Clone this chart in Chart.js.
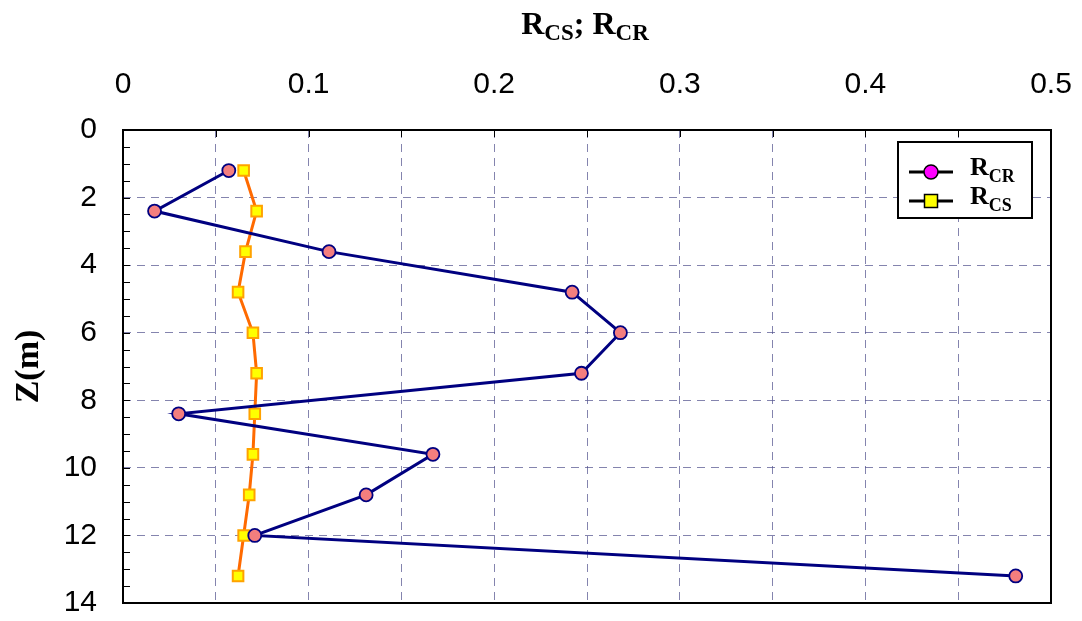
<!DOCTYPE html>
<html>
<head>
<meta charset="utf-8">
<script src="https://cdn.jsdelivr.net/npm/chart.js@4.4.0/dist/chart.umd.min.js"></script>
<style>
  html, body { margin: 0; padding: 0; background: #fff; }
  #wrap { width: 1082px; height: 621px; position: relative; }
</style>
</head>
<body>
<div id="wrap"><canvas id="chart"></canvas></div>
<script>
// depth of each reading (m)
const depths = [1.2, 2.4, 3.6, 4.8, 6.0, 7.2, 8.4, 9.6, 10.8, 12.0, 13.2];
const rcr = [0.057, 0.017, 0.111, 0.242, 0.268, 0.247, 0.030, 0.167, 0.131, 0.071, 0.481];
const rcs = [0.065, 0.072, 0.066, 0.062, 0.070, 0.072, 0.071, 0.070, 0.068, 0.065, 0.062];

const xTickLabels = ['0', '0.1', '0.2', '0.3', '0.4', '0.5'];
const yTickLabels = ['0', '2', '4', '6', '8', '10', '12', '14'];

const serif = '"Liberation Serif", "Times New Roman", serif';
const sans = '"Liberation Sans", Arial, sans-serif';
const gridCol = 'rgba(80, 80, 140, 0.7)';

const toPoints = vals => vals.map((v, i) => ({ x: v, y: depths[i] }));

// text with subscripts, e.g. [['R'], ['CS', 1]]
function drawSubText(ctx, parts, cx, baseY, size, subSize) {
  const fontOf = s => 'bold ' + s + 'px ' + serif;
  let total = 0;
  parts.forEach(p => {
    ctx.font = fontOf(p[1] ? subSize : size);
    total += ctx.measureText(p[0]).width;
  });
  let x = cx - total / 2;
  ctx.textAlign = 'left';
  ctx.textBaseline = 'alphabetic';
  parts.forEach(p => {
    ctx.font = fontOf(p[1] ? subSize : size);
    ctx.fillText(p[0], x, baseY + (p[1] ? size * 0.2 : 0));
    x += ctx.measureText(p[0]).width;
  });
  return total;
}

const frame = {
  id: 'frame',
  beforeDatasetsDraw(chart) {
    const { ctx, chartArea: a, scales } = chart;
    ctx.save();
    // minor tick marks, pointing inward
    ctx.strokeStyle = '#000';
    ctx.lineWidth = 1;
    ctx.beginPath();
    for (let v = 0.5; v < 14; v += 0.5) {
      const y = Math.round(scales.y.getPixelForValue(v)) + 0.5;
      ctx.moveTo(a.left, y);
      ctx.lineTo(a.left + 7, y);
    }
    for (let i = 1; i < 10; i++) {
      const x = Math.round(scales.x.getPixelForValue(i * 0.05)) + 0.5;
      ctx.moveTo(x, a.top);
      ctx.lineTo(x, a.top + 7);
    }
    ctx.stroke();
    ctx.lineWidth = 2;
    ctx.strokeRect(a.left, a.top, a.right - a.left, a.bottom - a.top);
    ctx.restore();
  },
  afterDraw(chart) {
    const { ctx, chartArea: a } = chart;
    ctx.save();
    ctx.fillStyle = '#000';
    drawSubText(ctx, [['R'], ['CS', 1], ['; R'], ['CR', 1]], (a.left + a.right) / 2 - 2, 34, 32, 23);

    // legend
    const bx = 898, by = 142, bw = 134, bh = 76;
    ctx.fillStyle = '#fff';
    ctx.fillRect(bx, by, bw, bh);
    ctx.strokeStyle = '#000';
    ctx.lineWidth = 2;
    ctx.strokeRect(bx, by, bw, bh);
    const rows = [
      { y: 172, label: 'CR', shape: 'circle', fill: '#ff00ff' },
      { y: 201, label: 'CS', shape: 'square', fill: '#ffff00' }
    ];
    rows.forEach(r => {
      ctx.strokeStyle = '#000';
      ctx.lineWidth = 3;
      ctx.beginPath();
      ctx.moveTo(909, r.y);
      ctx.lineTo(953, r.y);
      ctx.stroke();
      ctx.fillStyle = r.fill;
      ctx.lineWidth = 1.5;
      ctx.beginPath();
      if (r.shape === 'circle') ctx.arc(931, r.y, 7, 0, Math.PI * 2);
      else ctx.rect(924.5, r.y - 6.5, 13, 13);
      ctx.fill();
      ctx.stroke();
      ctx.fillStyle = '#000';
      ctx.font = 'bold 26px ' + serif;
      ctx.textAlign = 'left';
      ctx.textBaseline = 'alphabetic';
      ctx.fillText('R', 970, r.y + 3);
      const w = ctx.measureText('R').width;
      ctx.font = 'bold 18px ' + serif;
      ctx.fillText(r.label, 970 + w, r.y + 10);
    });
    ctx.restore();
  }
};

new Chart(document.getElementById('chart'), {
  type: 'scatter',
  data: {
    datasets: [
      {
        label: 'RCR',
        data: toPoints(rcr),
        showLine: true,
        borderColor: '#000080',
        borderWidth: 3,
        pointStyle: 'circle',
        pointRadius: 6.5,
        pointBackgroundColor: '#f47e7e',
        pointBorderColor: '#000080',
        pointBorderWidth: 1.8,
        clip: false
      },
      {
        label: 'RCS',
        data: toPoints(rcs),
        showLine: true,
        borderColor: '#ff6a00',
        borderWidth: 3,
        pointStyle: 'rect',
        pointRadius: 7.5,
        pointBackgroundColor: '#ffff00',
        pointBorderColor: '#ffa200',
        pointBorderWidth: 2,
        clip: false
      }
    ]
  },
  options: {
    responsive: true,
    maintainAspectRatio: false,
    animation: false,
    layout: { padding: { top: 0, left: 0, right: 31, bottom: 18 } },
    plugins: { legend: { display: false }, tooltip: { enabled: false } },
    scales: {
      x: {
        type: 'linear',
        position: 'top',
        min: 0,
        max: 0.5,
        afterFit: s => { s.height = 130; s.paddingLeft = 0; s.paddingRight = 0; },
        ticks: {
          stepSize: 0.05,
          padding: 27,
          color: '#000',
          font: { family: sans, size: 30 },
          maxRotation: 0,
          autoSkip: false,
          callback: v => {
            const k = Math.round(v * 20);
            return k % 2 === 0 ? xTickLabels[k / 2] : '';
          }
        },
        grid: {
          drawTicks: false,
          color: c => (c.tick.value <= 0 || c.tick.value >= 0.5) ? 'rgba(0,0,0,0)' : gridCol,
          lineWidth: 1
        },
        border: { display: false, dash: [8, 6] }
      },
      y: {
        type: 'linear',
        reverse: true,
        min: 0,
        max: 14,
        afterFit: s => { s.width = 123; s.paddingTop = 0; s.paddingBottom = 0; },
        ticks: {
          stepSize: 2,
          padding: 26,
          color: '#000',
          font: { family: sans, size: 30 },
          callback: v => yTickLabels[Math.round(v / 2)]
        },
        title: {
          display: true,
          text: 'Z(m)',
          color: '#000',
          font: { family: serif, size: 34, weight: 'bold' },
          padding: { top: 9, bottom: 0 }
        },
        grid: {
          drawTicks: false,
          color: c => (c.tick.value <= 0 || c.tick.value >= 14) ? 'rgba(0,0,0,0)' : gridCol,
          lineWidth: 1
        },
        border: { display: false, dash: [8, 6] }
      }
    }
  },
  plugins: [frame]
});
</script>
</body>
</html>
